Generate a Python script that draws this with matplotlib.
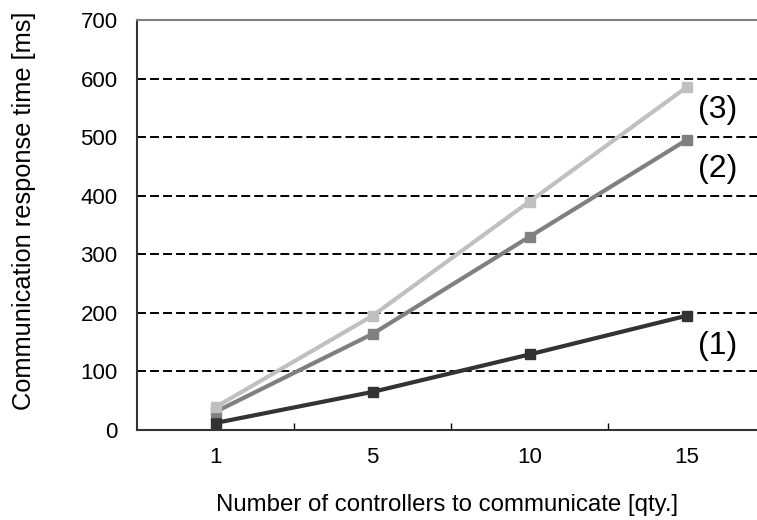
import numpy as np
import matplotlib.pyplot as plt

plt.rcParams['font.family'] = ['Liberation Sans', 'DejaVu Sans']

categories = ['1', '5', '10', '15']
series1 = [12, 65, 129, 195]
series2 = [31, 164, 330, 495]
series3 = [39, 195, 390, 585]
labels = ['(1)', '(2)', '(3)']
label_y = [143, 445, 546]
colors = ['#333333', '#808080', '#c0c0c0']

fig = plt.figure(figsize=(7.57, 5.2), dpi=100)
ax = fig.add_axes([137/757, 90/520, (765-137)/757, 410/520])

x = np.arange(len(categories))
for vals, c in zip([series1, series2, series3], colors):
    ax.plot(x, vals, color=c, lw=3, marker='s', ms=7, zorder=3)

for lab, yv in zip(labels, label_y):
    ax.text(3.075, yv, lab, fontsize=23, ha='left', va='center')

ax.set_xlim(-0.5, 3.5)
ax.set_ylim(0, 700)
ax.set_yticks(np.arange(0, 701, 100))
ax.set_xticks(x)
ax.set_xticklabels(categories)
ax.set_xticks(x[:-1] + 0.5, minor=True)
ax.tick_params(axis='x', which='major', length=0, pad=12, labelsize=16)
ax.tick_params(axis='x', which='minor', direction='in', length=5, width=1)
ax.tick_params(axis='y', length=0, pad=14, labelsize=16)

for yv in range(100, 700, 100):
    ax.axhline(yv, color='black', lw=1.4, ls=(0, (4.6, 2.1)), zorder=1)

ax.spines['right'].set_visible(False)
ax.spines['top'].set_color('#808080')
ax.spines['top'].set_linewidth(1.5)
ax.spines['left'].set_color('#333333')
ax.spines['left'].set_linewidth(1.5)
ax.spines['bottom'].set_color('#333333')
ax.spines['bottom'].set_linewidth(1.5)

ax.set_ylabel('Communication response time [ms]', fontsize=18.3)
ax.yaxis.set_label_coords((36-137)/628, (430-211)/410)
ax.set_xlabel('Number of controllers to communicate [qty.]', fontsize=17.3)
ax.xaxis.set_label_coords((447-137)/628, (430-494)/410)

fig.savefig('out.png', dpi=100)
